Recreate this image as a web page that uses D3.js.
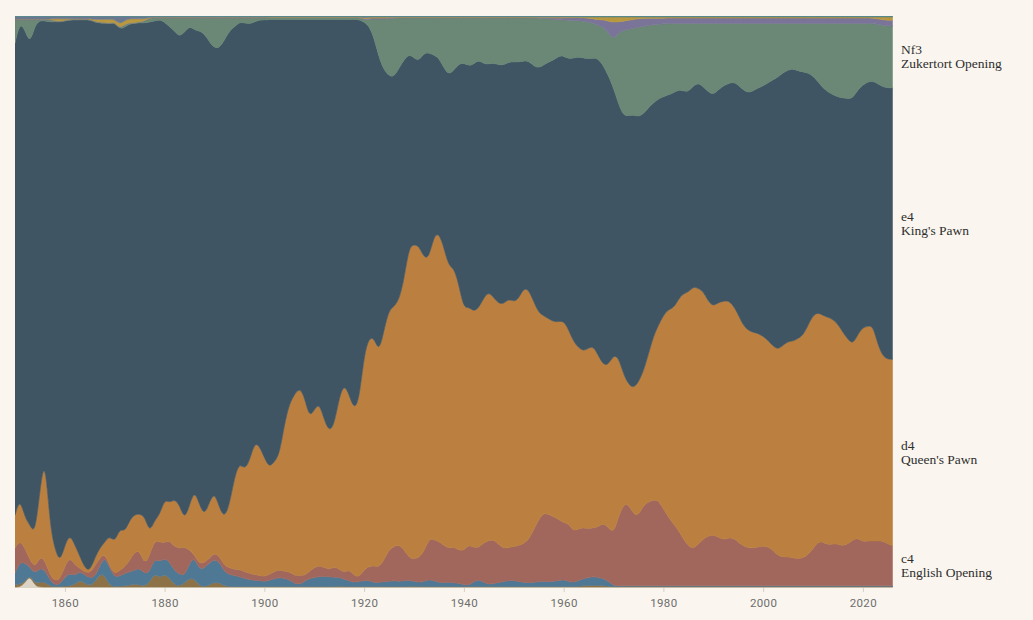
<!DOCTYPE html>
<html>
<head>
<meta charset="utf-8">
<script src="https://cdn.jsdelivr.net/npm/d3@7"></script>
<style>
  body { margin: 0; background: #faf6ef; }
  svg { display: block; }
</style>
</head>
<body>
<svg id="chart" width="1033" height="620"></svg>
<script>
// first moves played per year, relative share (stacked with stackOffsetExpand)
const years = d3.range(1850, 2027)

const other = [1,1,5,13,2,1,1,1,1,1,
  1,1,1,1,1,1,1,1,1,1, 1,1,1,1,1,1,1,1,1,1, 1,1,1,1,1,1,1,1,1,1, 1,1,1,1,1,1,1,1,1,1,
  1,1,1,1,1,1,1,1,1,1, 1,1,1,1,1,1,1,1,1,1, 1,1,1,1,1,1,1,1,1,1, 1,1,1,1,1,1,1,1,1,1,
  1,1,1,1,1,1,1,1,1,1, 1,1,1,1,1,1,1,1,1,1, 1,1,1,1,1,1,1,1,1,1, 1,1,1,1,1,1,1,1,1,1,
  1,1,1,1,1,1,1,1,1,1, 1,1,1,1,1,1,1,1,1,1, 1,1,1,1,1,1,1,1,1,1, 1,1,1,1,1,1,1,1,1,1,
  1,1,1,1,1,1,1]

const e3 = [2,3,1,1,2,5,5,1,0.5,0.5,
  1,1,3,7,4,1,5,13,12,1,
  0.5,1,1,2,3,2,1,5,14,9,
  13,9,2,1,4,9,8,1,0.5,2,
  5,4,1,0.5,0.5,0.5,0.5,0.5,0.5,0.5,
  0.5,0.5,0.5,0.5,0.5,0.5,0.5,0.5,0.5,0.5,
  0.5,0.5,0.5,0.5,0.5,1,0.5,0.5,0.5,0.5,
  0.5,0.5,0.5,0.5,0.5,0.5,0.5,0.5,0.5,0.5,
  1,0.5,0.5,0.5,0.5,0.5,0.5,0.5,0.5,0.5,
  0.5,0.5,0.5,0.5,0.5,0.5,0.5,0.5,0.5,0.5,
  0.5,0.5,0.5,0.5,0.5,0.5,0.5,0.5,0.5,0.5,
  0.5,0.5,0.5,0.5,1.5,1.5,1.5,1.5,1.5,0.5,
  0.5,0.5,0.5,0.5,0.5,0.5,0.5,0.5,0.5,0.5,
  0.5,0.5,0.5,0.5,0.5,0.5,0.5,0.5,0.5,0.5,
  0.5,0.5,0.5,0.5,0.5,0.5,0.5,0.5,0.5,0.5,
  0.5,0.5,0.5,0.5,0.5,0.5,0.5,0.5,0.5,0.5,
  0.5,0.5,0.5,0.5,0.5,0.5,0.5,0.5,0.5,0.5,
  0.5,0.5,0.5,0.5,0.5,0.5,0.5]

const f4 = [12,22,19,7,10,14,12,6,1.5,2,
  9,13,8,9,8,8,5,8,19,18,
  9,10,13,13,14,17,12,10,15,16,
  16,16,14,12,7,15,22,16,19,22,
  23,21,14,12,11,10,8,7,6,6,
  5,6,8,9,8,7,3,2,5,8,
  9,10,10,10,9,9,7,6,4,5,
  6,6,4,4,5,5,6,5,6,6,
  5,4,5,7,6,4,4,4,4,3,
  2,1,5,7,4,2,3,4,5,6,
  6,5,4,4,4,5,5,5,5,6,
  7,5,4,6,7,8,9,8,7,5,
  1,0.7,0.7,0.7,0.7,0.7,0.7,0.7,0.7,0.7,
  0.7,0.7,0.7,0.7,0.7,0.7,0.7,0.7,0.7,0.7,
  0.7,0.7,0.7,0.7,0.7,0.7,0.7,0.7,0.7,0.7,
  0.7,0.7,0.7,0.7,0.7,0.7,0.7,0.7,0.7,0.7,
  0.7,0.7,0.7,0.7,0.7,0.7,0.7,0.7,0.7,0.7,
  0.7,0.7,0.7,0.7,0.7,0.7,0.7]

const c4 = [25,22,15,7,6,12,10,5,4,5,
  11,16,11,3,3,5,11,8,3,2,
  3,6,6,12,18,18,9,17,18,20,
  15,22,24,26,29,13,2,6,5,5,
  6,6,6,7,6,7,7,6,6,5,
  5,6,7,8,7,8,8,9,6,7,
  10,11,9,7,11,8,7,11,7,4,
  11,14,17,15,22,32,34,37,31,23,
  22,25,30,41,41,41,37,34,36,33,
  34,41,34,32,40,44,44,38,33,33,
  34,36,39,43,53,62,69,67,65,61,
  57,58,51,52,51,49,49,51,56,54,
  52,69,82,82,72,70,81,84,86,86,
  77,69,62,56,47,40,37,42,47,50,
  51,49,46,48,48,44,40,38,38,39,
  40,39,36,30,29,29,28,27,28,31,
  37,44,44,41,42,42,40,42,46,48,
  44,45,45,45,45,42,40]

const d4 = [33,42,30,35,33,66,105,50,32,17,
  21,23,20,12,4,2,8,10,11,31,
  32,42,35,40,38,36,49,22,20,27,
  44,37,48,43,27,45,65,59,47,56,
  61,48,48,63,92,107,102,112,132,130,
  119,107,110,115,147,168,181,188,180,154,
  158,163,148,138,142,172,189,175,166,178,
  215,229,228,215,230,240,240,245,270,311,
  315,312,294,281,304,309,298,282,279,266,
  242,238,236,240,245,249,242,241,245,249,
  245,247,256,250,228,207,197,196,195,198,
  202,194,190,181,177,181,182,171,158,163,
  179,160,130,120,126,134,134,148,164,175,
  194,208,216,231,246,254,263,256,248,235,
  229,235,239,238,233,228,221,218,216,214,
  210,207,204,207,212,216,217,221,223,230,
  234,230,227,228,225,220,214,205,196,204,
  215,215,216,197,185,185,187]

const e4 = [472,476,488,481,510,470,434,503,529,543,
  526,514,525,538,551,553,538,526,520,517,
  521,499,507,497,493,492,493,511,499,496,
  477,476,468,468,488,479,460,474,482,460,
  444,460,478,474,451,441,447,438,421,426,
  439,449,443,436,406,385,376,369,377,399,
  391,384,401,413,406,379,365,376,391,381,
  333,312,300,295,260,234,230,232,220,193,
  187,185,205,205,181,175,180,192,198,221,
  246,241,248,248,234,228,235,239,239,237,
  240,237,227,229,236,245,251,257,262,266,
  265,271,284,291,294,290,289,298,300,289,
  268,254,259,269,274,266,258,247,234,227,
  219,215,216,210,203,201,201,206,205,210,
  212,213,216,217,224,230,236,238,242,246,
  251,258,267,273,273,272,273,268,264,253,
  240,231,228,226,225,228,235,241,247,245,
  243,245,245,261,270,272,272]

const nf3 = [23.1,2.1,10.1,24.1,5.1,0.5,1.1,2.6,0.5,0.5,
  0.5,0.6,0.6,0.5,0.5,0.5,0.5,0.5,0.5,0.5,
  0.5,0.5,2.9,0.5,0.5,0.5,1.9,4,3,1.5,
  4,9,13,19,14,8,12,13,16,24,
  30,30,22,13,9,4,5,6,4,2,
  2,2,2,2,2,2,2,2,2,2,
  2,2,2,2,2,2,2,2,2,2,
  2.2,6.9,18.9,38.9,50.9,57.4,58.9,49.9,41.9,35.9,
  39.9,42.9,34.9,34.9,36.9,39.9,49.9,56.9,51.9,45.9,
  44.9,47.9,45.9,41.9,45.9,45.9,44.9,46.9,46.9,43.9,
  43.9,43.9,42.9,42.9,47.9,49.9,46.4,43.4,40.6,36.1,
  36.1,38.9,37.4,36.4,36.9,36.7,34.7,33.2,38.7,42.7,
  48.7,71.2,85.7,86.7,86.7,89.7,87.7,82.7,78.2,74.7,
  73.2,71.5,69.5,66.5,67.5,68.5,62.5,59.5,63.5,68.5,
  71.5,66.5,62.5,60.5,58.5,61.5,66.5,69.5,67.5,64.5,
  62.5,59.5,56.5,53.5,49.5,46.5,45.5,47.5,48.5,49.5,
  52.5,58.5,64.5,68.5,71.5,73.5,74.5,75.5,74.5,66.5,
  61.5,58.5,57.5,59.7,61.7,62.2,62.2]

const g3 = [0.3,0.3,0.3,0.3,0.3,0.3,0.3,0.3,0.3,0.3,
  0.3,0.3,0.3,0.3,0.3,0.3,0.3,0.3,0.3,0.3,
  0.3,0.3,0.3,0.3,0.3,0.3,0.3,0.3,0.3,0.3,
  0.3,0.3,0.3,0.3,0.3,0.3,0.3,0.3,0.3,0.3,
  0.3,0.3,0.3,0.3,0.3,0.3,0.3,0.3,0.3,0.3,
  0.3,0.3,0.3,0.3,0.3,0.3,0.3,0.3,0.3,0.3,
  0.3,0.3,0.3,0.3,0.3,0.3,0.3,0.3,0.3,0.3,
  1,1,1,1,1,1,0.5,0.5,0.5,0.5,
  0.5,0.5,0.5,0.5,0.5,0.5,0.5,0.5,0.5,0.5,
  0.5,0.5,0.5,0.5,0.5,0.5,0.5,0.5,0.5,0.5,
  0.5,0.5,0.5,0.5,0.5,0.5,1,1,1.5,2,
  2,2.5,3,3,3.5,4,4.5,6,7.5,12,
  17,11,9,9,9,8.5,8,7,6.5,6,
  5.5,5.5,5.5,5.5,5.5,5.5,5.5,5.5,5.5,5.5,
  5.5,5.5,5.5,5.5,5.5,5.5,5.5,5.5,5.5,5.5,
  5.5,5.5,5.5,5.5,5.5,5.5,5.5,5.5,5.5,5.5,
  5.5,5.5,5.5,5.5,5.5,5.5,5.5,5.5,5.5,5.5,
  5.5,5.5,5.5,5.5,5.5,5.5,5.5]

const b3 = [0.3,0.3,0.3,0.3,0.3,0.3,0.3,0.3,2,2.5,
  1.5,0.3,0.3,0.3,0.3,0.3,2,3,3,4,
  2.5,4,4,4,4,3,2,0.4,0.4,0.4,
  0.4,0.4,0.4,0.4,0.4,0.4,0.4,0.4,0.4,0.4,
  0.4,0.4,0.4,0.4,0.4,0.4,0.4,0.4,0.4,0.4,
  0.4,0.4,0.4,0.4,0.4,0.4,0.4,0.4,0.4,0.4,
  0.4,0.4,0.4,0.4,0.4,0.4,0.4,0.4,0.4,0.4,
  1,1,1,1,1,0.5,0.5,0.5,0.5,0.5,
  0.5,0.5,0.5,0.5,0.5,0.5,0.5,0.5,0.5,0.5,
  0.5,0.5,0.5,0.5,0.5,0.5,0.5,0.5,0.5,0.5,
  0.5,0.5,0.5,0.5,0.5,0.5,0.5,0.5,0.8,0.8,
  0.8,0.8,0.8,0.8,0.8,1.5,2,3,3,4.5,
  5.5,5,4.5,3.5,2.5,2,1.5,1.5,1.5,1.5,
  1.5,1.2,1.2,1.2,1.2,1.2,1.2,1.2,1.2,1.2,
  1.2,1.2,1.2,1.2,1.2,1.2,1.2,1.2,1.2,1.2,
  1.2,1.2,1.2,1.2,1.2,1.2,1.2,1.2,1.2,1.2,
  1.2,1.2,1.2,1.2,1.2,1.2,1.2,1.2,1.2,1.2,
  1.2,1.2,1.2,2,3,3.5,3.5]

const nc3 = [3,3,3,3,3,3,3,2.5,2.5,2.5,
  2.5,2.5,2.5,2.5,2.5,2.5,3,3,3,3,
  3,8,4,2.5,2.5,2.5,2.5,1,1,1,
  1,1,1,1,1,1,1,1,1,1,
  1,1,1,1,1,1,1,1,1,1,
  1,0.5,0.5,0.5,0.5,0.5,0.5,0.5,0.5,0.5,
  0.5,0.5,0.5,0.5,0.5,0.5,0.5,0.5,0.5,0.5,
  1.5,0.8,0.8,0.8,0.8,0.8,0.8,0.8,0.8,0.8,
  0.8,0.8,0.8,0.8,0.8,0.8,0.8,0.8,0.8,0.8,
  0.8,0.8,0.8,0.8,0.8,0.8,0.8,0.8,0.8,0.8,
  0.8,0.8,0.8,0.8,0.8,0.8,0.8,0.8,0.8,0.8,
  0.8,0.2,0.2,0.2,0.2,0.2,0.2,0.2,0.2,0.2,
  0.2,0.2,0.2,0.2,0.2,0.2,0.2,0.2,0.2,0.2,
  0.2,0.2,0.2,0.2,0.2,0.2,0.2,0.2,0.2,0.2,
  0.2,0.2,0.2,0.2,0.2,0.2,0.2,0.2,0.2,0.2,
  0.2,0.2,0.2,0.2,0.2,0.2,0.2,0.2,0.2,0.2,
  0.2,0.2,0.2,0.2,0.2,0.2,0.2,0.2,0.2,0.2,
  0.2,0.2,0.2,0.2,0.2,0.2,0.2]

const b4 = [0.3,0.3,0.3,0.3,0.3,0.3,0.3,0.3,0.3,0.3,
  0.3,0.3,0.3,0.3,0.3,0.3,0.3,0.3,0.3,0.3,
  0.3,0.3,0.3,0.3,0.3,0.3,0.3,0.3,0.3,0.3,
  0.3,0.3,0.3,0.3,0.3,0.3,0.3,0.3,0.3,0.3,
  0.3,0.3,0.3,0.3,0.3,0.3,0.3,0.3,0.3,0.3,
  0.3,0.3,0.3,0.3,0.3,0.3,0.3,0.3,0.3,0.3,
  0.3,0.3,0.3,0.3,0.3,0.3,0.3,0.3,0.3,0.3,
  0.3,0.3,0.3,0.3,0.3,0.3,0.3,0.3,0.3,0.3,
  0.3,0.3,0.3,0.3,0.3,0.3,0.3,0.3,0.3,0.3,
  0.3,0.3,0.3,0.3,0.3,0.3,0.3,0.3,0.3,0.3,
  0.3,0.3,0.3,0.3,0.3,0.3,0.3,0.3,0.3,0.3,
  0.3,0.6,0.6,0.6,0.6,0.6,0.6,0.6,0.6,0.6,
  0.6,0.6,0.6,0.6,0.6,0.6,0.6,0.6,0.6,0.6,
  0.6,0.6,0.6,0.6,0.6,0.6,0.6,0.6,0.6,0.6,
  0.6,0.6,0.6,0.6,0.6,0.6,0.6,0.6,0.6,0.6,
  0.6,0.6,0.6,0.6,0.6,0.6,0.6,0.6,0.6,0.6,
  0.6,0.6,0.6,0.6,0.6,0.6,0.6,0.6,0.6,0.6,
  0.6,0.6,0.6,0.6,0.6,0.6,0.6]

// stacked bottom -> top
const keys = ['other', 'e3', 'f4', 'c4', 'd4', 'e4', 'nf3', 'g3', 'b3', 'nc3', 'b4']
const values = { other, e3, f4, c4, d4, e4, nf3, g3, b3, nc3, b4 }
const colors = {
  other: '#dcd4c4', e3: '#8d7247', f4: '#4f7895', c4: '#a2675c', d4: '#bb803f',
  e4: '#405564', nf3: '#6a8875', g3: '#7b7499', b3: '#b8993f', nc3: '#6c7890', b4: '#4e8a8b'
}
const labels = [
  { key: 'nf3', move: 'Nf3', name: 'Zukertort Opening' },
  { key: 'e4', move: 'e4', name: "King's Pawn" },
  { key: 'd4', move: 'd4', name: "Queen's Pawn" },
  { key: 'c4', move: 'c4', name: 'English Opening' }
]
const tickYears = [1860, 1880, 1900, 1920, 1940, 1960, 1980, 2000, 2020]

const table = years.map((year, i) => {
  const row = { year }
  keys.forEach(k => { row[k] = values[k][i] })
  return row
})

const svg = d3.select('#chart')
const plotLeft = 15
const plotRight = 892.8
const plotTop = 16
const plotBottom = 588

svg.append('rect').attr('width', 1033).attr('height', 620).attr('fill', '#faf6ef')

const x = d3.scaleLinear().domain([1850, 2026]).range([plotLeft, plotRight])
const y = d3.scaleLinear().domain([0, 1]).range([plotBottom, plotTop])

const series = d3.stack().keys(keys).offset(d3.stackOffsetExpand)(table)

const area = d3.area()
  .curve(d3.curveBasis)
  .x(d => x(d.data.year))
  .y0(d => y(d[0]))
  .y1(d => y(d[1]))

// clip so the seam-hiding stroke stays inside the plot
svg.append('clipPath').attr('id', 'plot-clip')
  .append('rect')
  .attr('x', plotLeft).attr('y', plotTop)
  .attr('width', plotRight - plotLeft).attr('height', plotBottom - plotTop)

svg.append('g')
  .attr('clip-path', 'url(#plot-clip)')
  .selectAll('path')
  .data(series)
  .join('path')
  .attr('fill', d => colors[d.key])
  .attr('stroke', d => colors[d.key])
  .attr('stroke-width', 0.6)
  .attr('d', area)

// x axis
const axis = svg.append('g')
  .attr('transform', `translate(0,${plotBottom})`)
  .call(d3.axisBottom(x).tickValues(tickYears).tickFormat(d3.format('d')).tickSize(4).tickPadding(7))
axis.select('.domain').remove()
axis.selectAll('.tick line').attr('stroke', '#d6d0c4')
axis.selectAll('.tick text')
  .attr('fill', '#6d6d6d')
  .attr('font-family', 'Roboto, "Liberation Sans", sans-serif')
  .attr('font-size', 11.5)
  .attr('letter-spacing', '0.3px')

// labels at the end of each big layer
const last = series.map(s => s[s.length - 1])
const labelG = svg.append('g')
  .attr('font-family', '"Liberation Serif", "DejaVu Serif", serif')
  .attr('font-size', 13.5)
  .attr('fill', '#2e2e2e')
labels.forEach(l => {
  const p = last[keys.indexOf(l.key)]
  const mid = (y(p[0]) + y(p[1])) / 2
  const t = labelG.append('text').attr('x', 901).attr('y', mid - 3)
  t.append('tspan').attr('x', 901).text(l.move)
  t.append('tspan').attr('x', 901).attr('dy', 14).text(l.name)
})
</script>
</body>
</html>
